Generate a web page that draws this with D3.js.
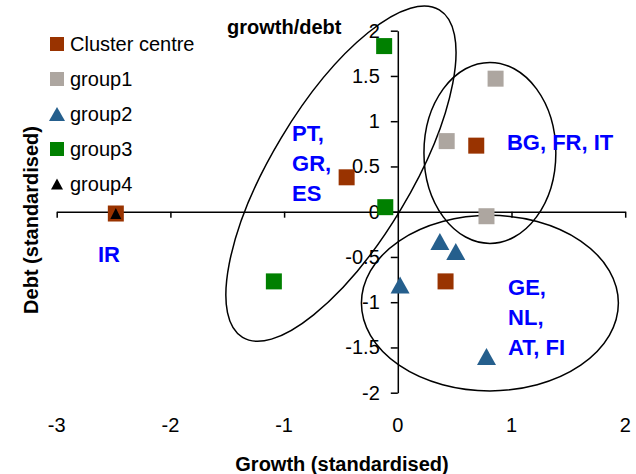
<!DOCTYPE html>
<html>
<head>
<meta charset="utf-8">
<script src="https://cdnjs.cloudflare.com/ajax/libs/d3/7.8.5/d3.min.js"></script>
<style>
  body { margin: 0; background: #fff; }
  svg { font-family: "Liberation Sans", Arial, sans-serif; }
</style>
</head>
<body>
<div id="chart"></div>
<script>
// tick values
var xTicks = [-3, -2, -1, 0, 1, 2]
var yTicks = [-2, -1.5, -1, -0.5, 0, 0.5, 1, 1.5, 2]

// series (growth, debt)
var centreX = [-2.48, -0.45, 0.69, 0.42]
var centreY = [-0.02, 0.38, 0.73, -0.77]
var group1X = [0.86, 0.43, 0.78]
var group1Y = [1.47, 0.78, -0.05]
var group2X = [0.37, 0.51, 0.02, 0.78]
var group2Y = [-0.33, -0.44, -0.81, -1.60]
var group3X = [-0.12, -0.11, -1.09]
var group3Y = [1.83, 0.05, -0.77]
var group4X = [-2.48]
var group4Y = [-0.02]

var seriesNames = ["Cluster centre", "group1", "group2", "group3", "group4"]

// cluster outlines: centre in data units, radii along x / y units, tilt in degrees
var ellipseCX = [-0.50, 0.81, 0.81]
var ellipseCY = [0.42, 0.65, -1.01]
var ellipseRX = [1.68, 0.58, 1.13]
var ellipseRY = [0.77, 1.00, 0.97]
var ellipseTilt = [-59, 0, 0]

// cluster labels
var labelLines = [["PT,", "GR,", "ES"], ["BG, FR, IT"], ["GE,", "NL,", "AT, FI"], ["IR"]]
var labelX = [-0.93, 0.96, 0.97, -2.54]
var labelY = [0.87, 0.77, -0.83, -0.47]

var W = 636, H = 474

var svg = d3.select("#chart").append("svg")
    .attr("width", W)
    .attr("height", H)

var x = d3.scaleLinear().domain([-3, 2]).range([56.7, 625.2])
var y = d3.scaleLinear().domain([-2, 2]).range([392.7, 30.7])

var styles = [
  {shape: "square", fill: "#993300", size: 16, legendSize: 14},
  {shape: "square", fill: "#ADA6A0", size: 16, legendSize: 14},
  {shape: "triangle", fill: "#255F8D", w: 19, h: 17, legendW: 16, legendH: 14},
  {shape: "square", fill: "#008000", size: 16, legendSize: 14},
  {shape: "triangle", fill: "#000000", w: 11, h: 11, legendW: 12, legendH: 11}
]
var seriesX = [centreX, group1X, group2X, group3X, group4X]
var seriesY = [centreY, group1Y, group2Y, group3Y, group4Y]

// ellipses
var ell = svg.append("g")
ellipseCX.forEach(function(cx, i) {
  var px = x(cx), py = y(ellipseCY[i])
  var rx = x(ellipseRX[i]) - x(0)
  var ry = y(0) - y(ellipseRY[i])
  ell.append("ellipse")
    .attr("cx", 0).attr("cy", 0)
    .attr("rx", rx).attr("ry", ry)
    .attr("transform", "translate(" + px + "," + py + ") rotate(" + ellipseTilt[i] + ")")
    .attr("fill", "none")
    .attr("stroke", "#000")
    .attr("stroke-width", 1.5)
})

// axes crossing at zero
var xAxis = d3.axisBottom(x).tickValues(xTicks).tickSizeInner(6).tickSizeOuter(0).tickFormat("")
var gx = svg.append("g")
    .attr("transform", "translate(0," + y(0) + ")")
    .call(xAxis)
gx.select(".domain").attr("stroke-width", 1.5)
gx.selectAll(".tick line").attr("stroke-width", 1.5)

var yAxis = d3.axisLeft(y).tickValues(yTicks).tickSizeInner(7).tickSizeOuter(0)
    .tickPadding(11)
    .tickFormat(function(d) { return String(d) })
var gy = svg.append("g")
    .attr("transform", "translate(" + x(0) + ",0)")
    .call(yAxis)
gy.select(".domain").attr("stroke-width", 1.5)
gy.selectAll(".tick line").attr("stroke-width", 1.5)
gy.selectAll(".tick text").attr("font-size", 20).attr("font-family", null).attr("fill", "#000")

// x tick labels sit along the bottom
svg.append("g").selectAll("text")
  .data(xTicks)
  .enter().append("text")
    .attr("x", function(d) { return x(d) })
    .attr("y", 432)
    .attr("text-anchor", "middle")
    .attr("font-size", 20)
    .text(function(d) { return String(d) })

// axis titles
svg.append("text")
    .attr("x", 342)
    .attr("y", 471)
    .attr("text-anchor", "middle")
    .attr("font-size", 20)
    .attr("font-weight", "bold")
    .text("Growth (standardised)")

svg.append("text")
    .attr("transform", "translate(38,220) rotate(-90)")
    .attr("text-anchor", "middle")
    .attr("font-size", 20)
    .attr("font-weight", "bold")
    .text("Debt (standardised)")

svg.append("text")
    .attr("x", 227)
    .attr("y", 34)
    .attr("font-size", 20)
    .attr("font-weight", "bold")
    .text("growth/debt")

function drawMarker(g, st, cx, cy, legend) {
  if (st.shape == "square") {
    var s = legend ? st.legendSize : st.size
    g.append("rect")
      .attr("x", cx - s / 2).attr("y", cy - s / 2)
      .attr("width", s).attr("height", s)
      .attr("fill", st.fill)
  } else {
    var w = legend ? st.legendW : st.w
    var h = legend ? st.legendH : st.h
    g.append("path")
      .attr("d", "M" + cx + "," + (cy - h / 2) + "L" + (cx + w / 2) + "," + (cy + h / 2) + "L" + (cx - w / 2) + "," + (cy + h / 2) + "Z")
      .attr("fill", st.fill)
  }
}

// points
var pts = svg.append("g")
seriesX.forEach(function(xs, i) {
  xs.forEach(function(v, j) {
    drawMarker(pts, styles[i], x(v), y(seriesY[i][j]), false)
  })
})

// cluster labels
labelLines.forEach(function(lines, i) {
  var t = svg.append("text")
    .attr("x", x(labelX[i]))
    .attr("y", y(labelY[i]))
    .attr("fill", "#0000FF")
    .attr("font-size", 22)
    .attr("font-weight", "bold")
    .attr("text-anchor", i == 3 ? "middle" : "start")
  lines.forEach(function(l, k) {
    t.append("tspan")
      .attr("x", x(labelX[i]))
      .attr("dy", k == 0 ? "0.36em" : "1.36em")
      .text(l)
  })
})

// legend
var legend = svg.append("g")
seriesNames.forEach(function(name, i) {
  var ly = 44 + i * 35
  drawMarker(legend, styles[i], 57, ly, true)
  legend.append("text")
    .attr("x", 70)
    .attr("y", ly)
    .attr("dy", "0.36em")
    .attr("font-size", 20)
    .text(name)
})
</script>
</body>
</html>
